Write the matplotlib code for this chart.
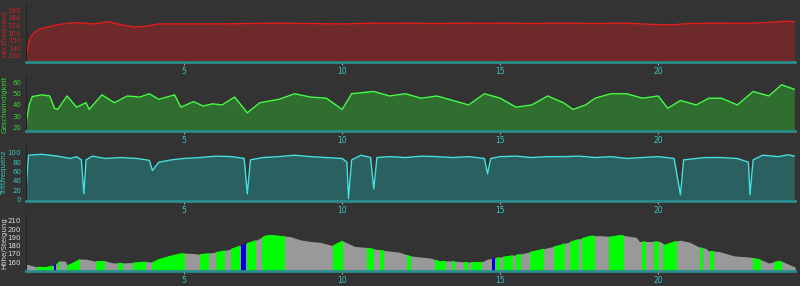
import matplotlib
matplotlib.use("Agg")
from matplotlib import pyplot as plt

# distance in km
hr_km = [0, 0.1, 0.2, 0.4, 0.7, 1.0, 1.5, 1.7, 2.15, 2.6, 2.9, 3.4, 3.7, 4.2, 5, 6, 7, 8, 9,
         10, 11, 12, 13, 14, 15, 16, 17, 18, 19, 20, 20.5, 21, 22, 23, 23.5, 24, 24.3]
hr = [125, 150, 158, 165, 168, 171, 173.5, 173.5, 172, 175, 172, 168, 168.5, 172, 172, 172, 172.5, 173, 172.5,
      172, 173, 173, 172.5, 173, 173, 172.5, 173, 172.5, 173, 171, 171, 172.5, 173, 173, 174, 175.5, 175]

spd_km = [0, 0.1, 0.2, 0.5, 0.75, 0.9, 1.0, 1.3, 1.6, 1.9, 2.0, 2.4, 2.8, 3.2, 3.6, 3.9, 4.2, 4.7, 4.9,
          5.3, 5.6, 5.9, 6.2, 6.6, 7.0, 7.4, 8.0, 8.5, 9.0, 9.5, 10.0, 10.3, 11.0, 11.5, 12.0, 12.5,
          13.0, 13.5, 14.0, 14.5, 15.0, 15.5, 16.0, 16.5, 17.0, 17.3, 17.7, 18.0, 18.5, 19.0, 19.5,
          20.0, 20.3, 20.7, 21.2, 21.6, 22.0, 22.5, 23.0, 23.5, 23.9, 24.3]
spd = [22, 40, 47.5, 49, 48, 37, 36, 48, 38, 42, 36, 49, 42, 48, 47, 50, 45, 49, 38,
       43, 39, 41, 40, 47, 33, 42, 45, 50, 47, 46, 36, 50, 52, 48, 50, 46,
       48, 44, 40, 50, 46, 38, 40, 48, 42, 36, 40, 46, 50, 50, 46,
       48, 37, 44, 40, 46, 46, 40, 52, 48, 58, 54]

cad_km = [0, 0.08, 0.5, 1.0, 1.4, 1.6, 1.75, 1.83, 1.9, 2.1, 2.5, 3.0, 3.5, 3.9, 4.0, 4.2, 4.6, 5.0,
          5.5, 6.0, 6.5, 6.9, 7.0, 7.1, 7.5, 8.0, 8.5, 9.0, 9.5, 10.0, 10.15, 10.2, 10.3, 10.6,
          10.9, 11.0, 11.1, 11.5, 12.0, 12.5, 13.0, 13.5, 14.0, 14.5, 14.6, 14.7, 15.0, 15.5, 16.0,
          16.5, 17.0, 17.5, 18.0, 18.5, 19.0, 19.5, 20.0, 20.5, 20.7, 20.8, 21.2, 21.5, 22.0, 22.5,
          22.85, 22.9, 23.0, 23.3, 23.8, 24.1, 24.3]
cad = [20, 95, 97, 93, 88, 92, 85, 12, 85, 93, 88, 90, 88, 84, 62, 80, 85, 88,
       90, 93, 92, 88, 12, 85, 90, 92, 95, 92, 90, 88, 80, 2, 85, 95,
       90, 22, 90, 92, 90, 93, 92, 90, 92, 88, 55, 88, 92, 93, 90,
       92, 92, 93, 90, 92, 88, 90, 92, 88, 10, 85, 88, 90, 90, 88,
       80, 10, 85, 95, 92, 96, 93]

ele_km = [0, 0.3, 0.6, 0.9, 1.0, 1.1, 1.25, 1.3, 1.5, 1.7, 1.9, 2.2, 2.5, 2.75, 3.1, 3.45, 3.8, 4.0,
          4.2, 4.55, 4.9, 5.2, 5.5, 6.0, 6.45, 6.77, 6.96, 7.3, 7.56, 7.7, 8.0, 8.35, 8.67, 9.0, 9.3,
          9.7, 10.0, 10.4, 10.7, 11.2, 11.8, 12.15, 12.8, 13.1, 13.4, 13.9, 14.4, 14.6, 15.0, 15.6,
          16.3, 16.9, 17.4, 17.85, 18.16, 18.5, 18.8, 19.3, 19.4, 20.06, 20.2, 20.5, 20.7, 21.0,
          21.3, 21.5, 21.6, 21.9, 22.4, 22.9, 23.2, 23.5, 23.8, 23.9, 24.2, 24.33]
ele = [157.6, 154.5, 154, 156, 160, 161.5, 161, 156, 159.5, 163.6, 163.5, 161, 161.5, 159, 159, 159.5, 160.6, 160,
       163.6, 167.5, 170.7, 170.7, 169.5, 172, 175.5, 180, 182.6, 187, 192, 193, 192, 191, 187, 185, 184,
       180, 186, 179, 178, 174.7, 172, 167.5, 164.8, 161, 161.5, 160, 160, 163.6, 166, 169.5,
       175.5, 181, 187, 192, 192, 191, 193, 190, 185, 185, 181, 185, 186.5, 184,
       178, 176.7, 173.5, 173, 167.5, 166, 163.5, 158.8, 161.5, 161, 156, 154]

green_start = [0.35, 1.0, 1.3, 2.2, 2.9, 3.4, 4.0, 5.5, 6.0, 6.5, 7.0, 7.47, 9.72, 10.8, 11.2, 12.06,
               12.94, 13.48, 13.86, 14.08, 14.87, 15.1, 15.5, 15.95, 16.7, 17.2, 17.6, 18.45, 19.5,
               19.85, 20.16, 21.33, 21.65, 23.0, 23.67]
green_end = [0.85, 1.08, 1.7, 2.5, 3.07, 3.8, 5.03, 5.8, 6.3, 6.77, 7.28, 8.2, 10.03, 11.0, 11.33, 12.18,
             13.3, 13.58, 13.99, 14.43, 15.0, 15.4, 15.65, 16.4, 17.05, 17.5, 18.0, 18.9, 19.6,
             20.03, 20.6, 21.42, 21.77, 23.26, 23.92]
blue_start = [0.87, 6.8, 14.75]
blue_end = [0.95, 6.96, 14.84]

bg = "#333333"
teal = "#3cc4c4"

fig = plt.figure(figsize=(8, 2.86), dpi=100, facecolor=bg)
boxes = [(0.783, 0.983), (0.541, 0.731), (0.297, 0.493), (0.052, 0.248)]
axs = [fig.add_axes([0.0325, b, 0.9615, t - b]) for b, t in boxes]

def style(ax, ylim, yticks, label, lcolor):
    ax.set_facecolor(bg)
    ax.set_xlim(0, 24.33)
    ax.set_ylim(*ylim)
    ax.set_yticks(yticks)
    ax.set_xticks([5, 10, 15, 20])
    for s in ["top", "right"]:
        ax.spines[s].set_visible(False)
    ax.spines["left"].set_color("#222222")
    ax.spines["bottom"].set_color("#2a8c8c")
    ax.spines["bottom"].set_linewidth(2)
    ax.tick_params(axis="x", colors="#aaaaaa", labelcolor=teal, labelsize=5.5, length=2, pad=1.5)
    ax.tick_params(axis="y", colors=bg, labelcolor=lcolor, labelsize=5, length=2, pad=1.5)
    ax.set_ylabel(label, color=lcolor, fontsize=5)
    ax.yaxis.set_label_coords(-0.024, 0.5)

ax = axs[0]
ax.fill_between(hr_km, hr, 0, color="#6e2a2a", lw=0)
ax.plot(hr_km, hr, color="#e01c1c", lw=1)
style(ax, (122, 197), range(130, 200, 10), "Herzfrequenz", "#cc2222")

ax = axs[1]
ax.fill_between(spd_km, spd, 0, color="#2f6e2f", lw=0)
ax.plot(spd_km, spd, color="#44ff44", lw=1)
style(ax, (16.5, 65), range(20, 70, 10), "Geschwindigkeit", "#3cd23c")

ax = axs[2]
ax.fill_between(cad_km, cad, -10, color="#2a6060", lw=0)
ax.plot(cad_km, cad, color="#44e0e0", lw=1)
style(ax, (-3.6, 117), range(0, 120, 20), "Trittfrequenz", "#3cc4c4")

ax = axs[3]
poly = ax.fill_between(ele_km, ele, 140, color="#999999", lw=0)
clip = poly.get_paths()[0]
for s, e in zip(green_start, green_end):
    span = ax.axvspan(s, e, color="#00ff00", lw=0)
    span.set_clip_path(clip, ax.transData)
for s, e in zip(blue_start, blue_end):
    span = ax.axvspan(s, e, color="#0000dd", lw=0)
    span.set_clip_path(clip, ax.transData)
style(ax, (149, 217), range(160, 220, 10), "Höhe/Steigung", "#dddddd")

fig.savefig("out.png", dpi=100, facecolor=bg)
